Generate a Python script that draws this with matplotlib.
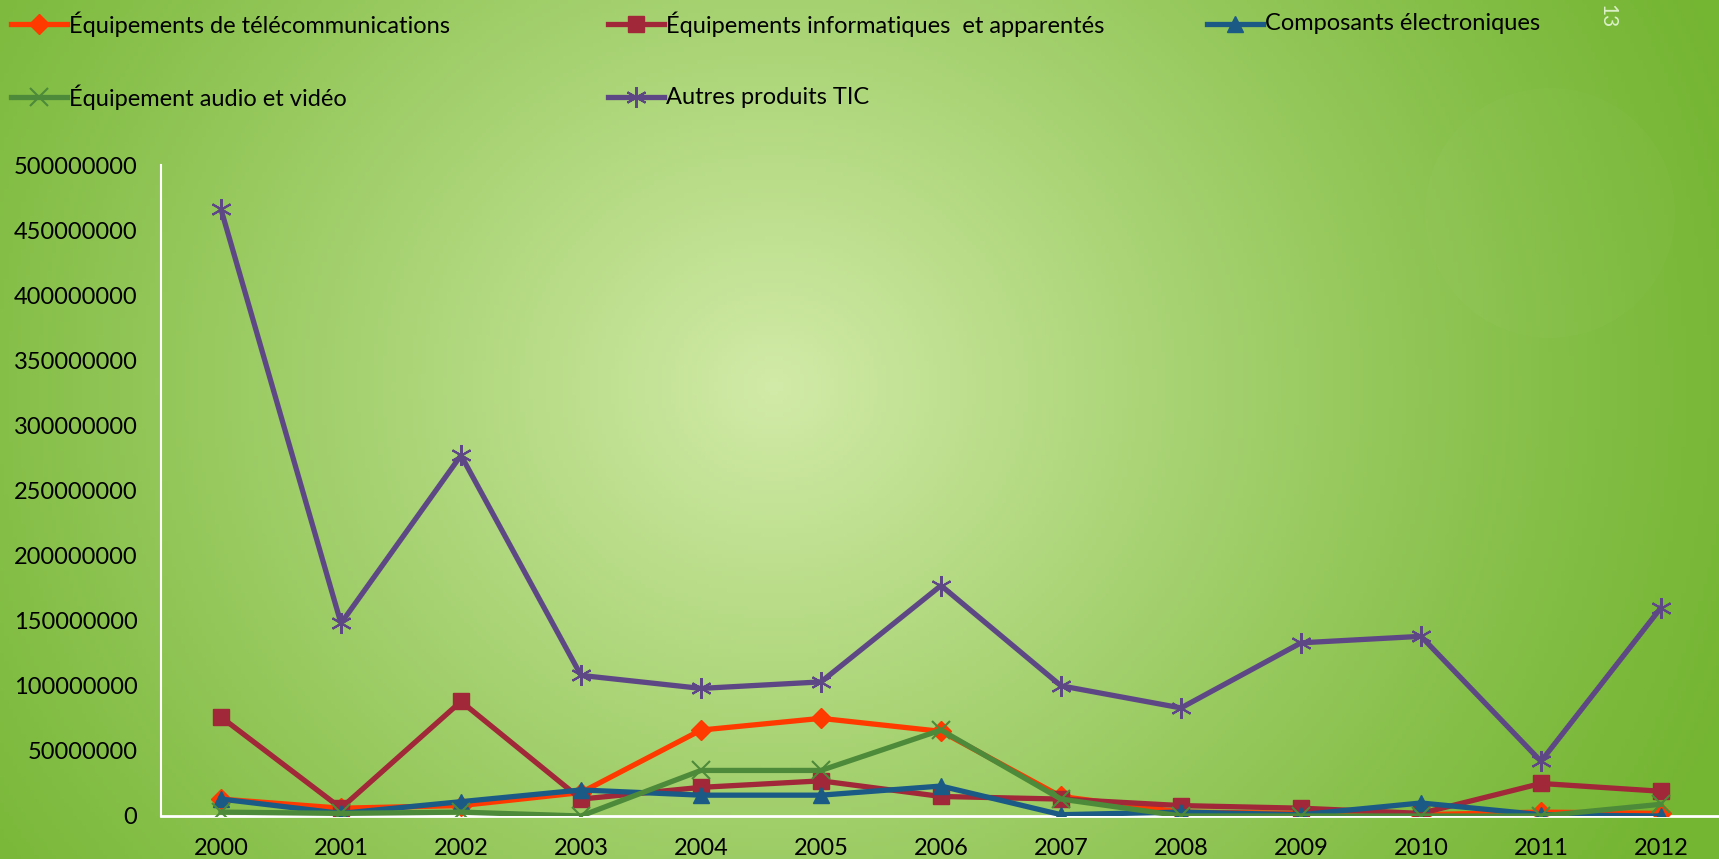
import numpy as np
import matplotlib.pyplot as plt
from matplotlib.lines import Line2D
from matplotlib.patches import Ellipse

plt.rcParams['font.family'] = ['Lato', 'DejaVu Sans']

years = ['2000', '2001', '2002', '2003', '2004', '2005', '2006',
         '2007', '2008', '2009', '2010', '2011', '2012']

telecom = [13, 6, 8, 18, 66, 75, 65, 15, 3, 2, 1, 3, 2]
informatique = [76, 6, 88, 13, 22, 27, 15, 13, 8, 6, 2, 25, 19]
composants = [13, 2, 11, 20, 16, 16, 23, 1, 3, 1, 10, 1, 0]
audio_video = [3, 2, 3, 0, 35, 35, 66, 13, 0, 0, 0, 0, 9]
autres = [466, 148, 277, 108, 98, 103, 177, 100, 83, 133, 138, 42, 160]

labels = ['Équipements de télécommunications',
          'Équipements informatiques  et apparentés',
          'Composants électroniques',
          'Équipement audio et vidéo',
          'Autres produits TIC']

FW, FH = 1719, 859
fig = plt.figure(figsize=(FW / 100, FH / 100), dpi=100)

# green slide background
bg = fig.add_axes([0, 0, 1, 1])
bg.set_axis_off()
W, H = 400, 200
xx, yy = np.meshgrid(np.linspace(0, 1, W), np.linspace(0, 1, H))
d = np.sqrt(((xx - 0.45) / 0.6) ** 2 + ((yy - 0.45) / 1.1) ** 2)
t = np.clip(1 - d, 0, 1) ** 1.2
edge = np.array([0x74, 0xb5, 0x32]) / 255
light = np.array([0xd2, 0xeb, 0xa8]) / 255
img = edge[None, None, :] * (1 - t[..., None]) + light[None, None, :] * t[..., None]
bg.imshow(img, extent=[0, 1, 0, 1], aspect='auto', origin='upper')
bg.add_patch(Ellipse((1550 / FW, 1 - 213 / FH), 250 / FW, 250 / FH,
                     color='white', alpha=0.02, lw=0))
bg.set_xlim(0, 1)
bg.set_ylim(0, 1)
bg.text(1607 / FW, 0.995, '13', rotation=-90, color='#dcf0c8', fontsize=15,
        ha='center', va='top')

ax = fig.add_axes([161 / FW, 43 / FH, 1560 / FW, 651 / FH])
ax.patch.set_alpha(0)
x = np.arange(len(years))
m = 1e6

styles = [
    dict(color='#ff3a00', marker='D', ms=10, zorder=3),
    dict(color='#a02838', marker='s', ms=12, zorder=3),
    dict(color='#1b5a85', marker='^', ms=12, zorder=4),
    dict(color='#4d8a3a', marker='x', ms=13, mew=1.5, zorder=5),
    dict(color='#5e4785', marker=(6, 2, 0), ms=15, mew=1.5, zorder=2),
]
series = [telecom, informatique, composants, audio_video, autres]
for vals, st in zip(series, styles):
    ax.plot(x, np.array(vals) * m, lw=3.8, **st)

ax.set_xlim(-0.5, 12.5)
ax.set_ylim(0, 500e6)
ax.set_xticks(x)
ax.set_xticklabels(years)
yt = np.arange(0, 500e6 + 1, 50e6)
ax.set_yticks(yt)
ax.set_yticklabels([str(int(v)) for v in yt])
ax.tick_params(length=0, labelsize=17, colors='black')
ax.tick_params(axis='y', pad=17)
ax.tick_params(axis='x', pad=16)
for s in ['top', 'right']:
    ax.spines[s].set_visible(False)
ax.spines['left'].set_color('white')
ax.spines['bottom'].set_color('white')
ax.spines['left'].set_linewidth(1.5)
ax.spines['bottom'].set_linewidth(2)

# legend laid out like the slide: 3 entries on the first row, 2 on the second
leg_pos = [(11, 24), (608, 24), (1207, 24), (11, 97), (608, 97)]
for (px, py), lab, st in zip(leg_pos, labels, styles):
    x0, x1 = px / FW, (px + 56) / FW
    yf = 1 - py / FH
    fig.add_artist(Line2D([x0, x1], [yf, yf], lw=3.8, color=st['color'],
                          transform=fig.transFigure))
    mk = {k: v for k, v in st.items() if k != 'zorder'}
    fig.add_artist(Line2D([(x0 + x1) / 2], [yf], lw=0,
                          transform=fig.transFigure, **mk))
    fig.text((px + 58) / FW, yf, lab, fontsize=17, va='center', ha='left')

fig.savefig('out.png', dpi=100)
